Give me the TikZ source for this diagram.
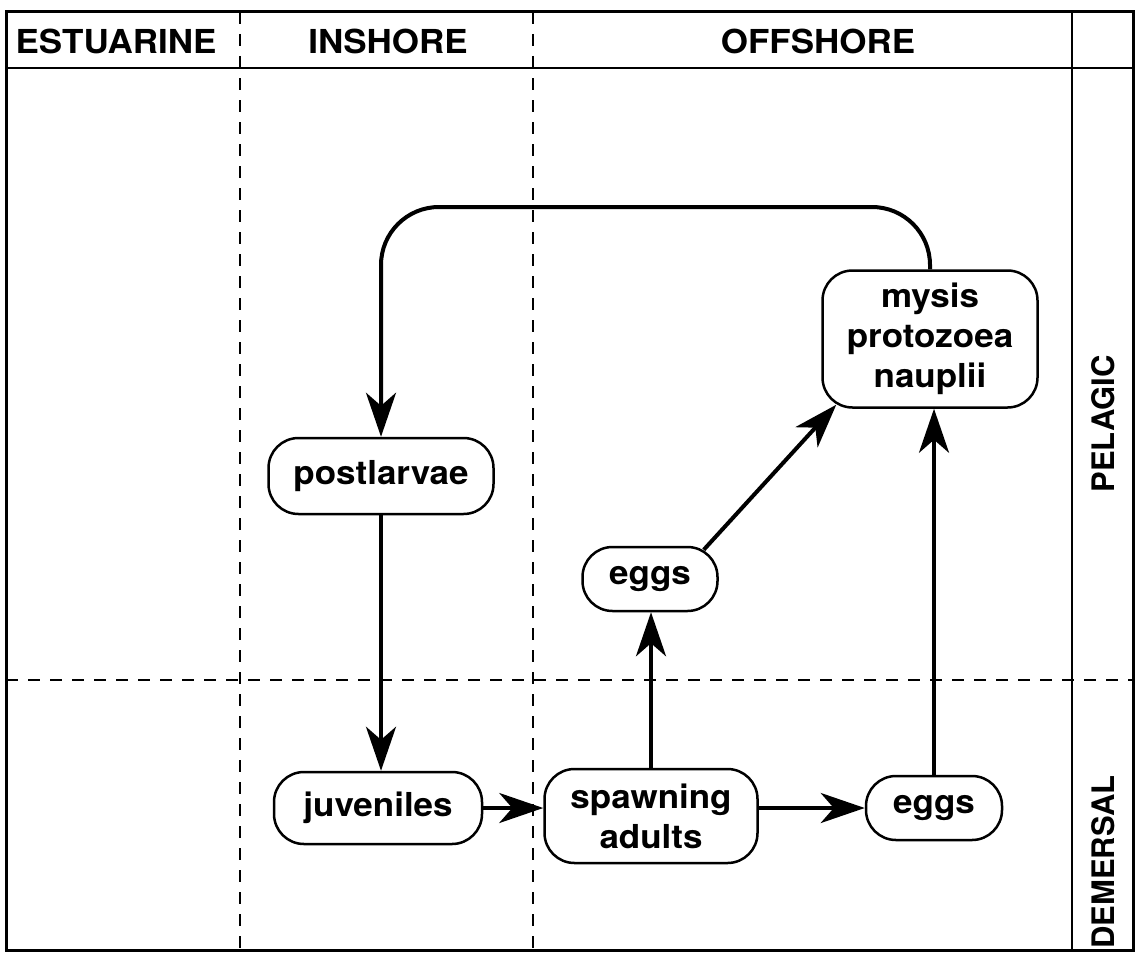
\documentclass[tikz,border=0pt]{standalone}
\usepackage{fontspec}
\setmainfont{TeX Gyre Heros}
\newfontfamily\wideface{TeX Gyre Heros}[FakeStretch=1.06]
\usetikzlibrary{arrows.meta,calc}
\begin{document}
\begin{tikzpicture}[x=1pt,y=-1pt,
  stage/.style={draw,line width=2.5pt,rounded corners=30pt,inner sep=0pt,
    align=center,font={\wideface\bfseries\fontsize{33}{40}\selectfont}},
  head/.style={inner sep=0pt,font={\wideface\bfseries\fontsize{33}{40}\selectfont}},
  side/.style={inner sep=0pt,rotate=90,font={\bfseries\fontsize{31}{35}\selectfont}},
  flow/.style={line width=4pt,-{Stealth[length=44pt,width=30pt,inset=13pt]}},
  zone/.style={line width=2pt,dash pattern=on 12pt off 10pt},
  rule/.style={line width=2.5pt},
]
\useasboundingbox (0,0) rectangle (1139,958);

% table frame and zone separators
\draw[line width=3pt] (6,12) rectangle (1133,950);
\draw[rule] (6,68) -- (1133,68);
\draw[rule] (1072,12) -- (1072,950);
\draw[zone] (240,12) -- (240,950);
\draw[zone] (533,12) -- (533,950);
\draw[zone] (6,680) -- (1133,680);

% column and row headings
\node[head] (hEst) at (116,41) {ESTUARINE};
\node[head] (hIn) at (388,41) {INSHORE};
\node[head] (hOff) at (818,41) {OFFSHORE};
\node[side] (pel) at (1103,424) {PELAGIC};
\node[side] (dem) at (1103,862) {DEMERSAL};

% life stages
\node[stage,minimum width=215pt,minimum height=137pt] (mysis) at (930,339) {mysis\\protozoea\\nauplii};
\node[stage,minimum width=225pt,minimum height=76pt] (post) at (381,476) {postlarvae};
\node[stage,minimum width=135pt,minimum height=64pt] (eggsA) at (650,579) {eggs};
\node[stage,minimum width=208pt,minimum height=72pt] (juv) at (378,808) {juveniles};
\node[stage,minimum width=213pt,minimum height=94pt] (spawn) at (651,816) {spawning\\adults};
\node[stage,minimum width=136pt,minimum height=64pt] (eggsB) at (934,808) {eggs};

% cycle
\coordinate (loop) at (0,207);
\draw[flow,rounded corners=58pt] (mysis.north) -- (mysis.north |- loop) -| (post.north);
\draw[flow] (post.south) -- (post.south |- juv.north);
\draw[flow] (juv.east) -- (juv.east -| spawn.west);
\draw[flow] (eggsB.west -| spawn.east) -- (eggsB.west);
\draw[flow] (spawn.north) -- (spawn.north |- eggsA.south);
\draw[flow] ($(eggsA.north east)+(-15,4)$) -- ($(mysis.south west)+(15,-4)$);
\draw[flow] (eggsB.north) -- (eggsB.north |- mysis.south);
\end{tikzpicture}
\end{document}
